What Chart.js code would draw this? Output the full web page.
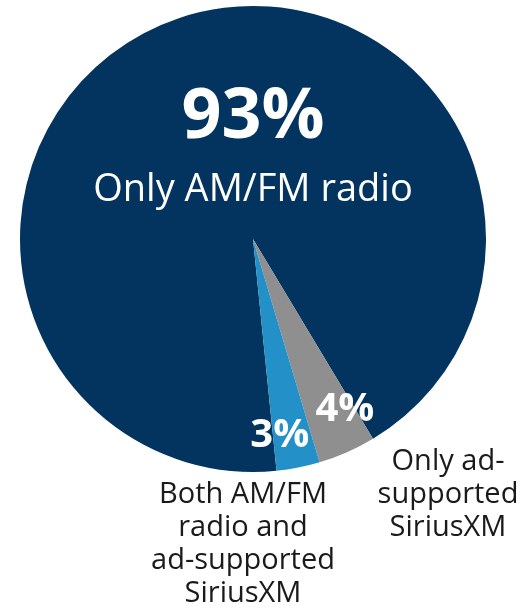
<!DOCTYPE html>
<html>
<head>
<meta charset="utf-8">
<script src="https://cdn.jsdelivr.net/npm/chart.js@4.4.0/dist/chart.umd.min.js"></script>
<style>
  html, body { margin: 0; padding: 0; background: #ffffff; }
  #wrap { width: 527px; height: 608px; }
</style>
</head>
<body>
<div id="wrap"><canvas id="chartRadio" width="527" height="608"></canvas></div>
<script>
// dados do gráfico
const categorias = ['Only AM/FM radio', 'Only ad-supported SiriusXM', 'Both AM/FM radio and ad-supported SiriusXM'];
const valores = [93, 4, 3];
const rotulosPct = ['93%', '4%', '3%'];
const rotulosLinhas = [
    ['Only AM/FM radio'],
    ['Only ad-', 'supported', 'SiriusXM'],
    ['Both AM/FM', 'radio and', 'ad-supported', 'SiriusXM']
];
const cores = ['#02345f', '#8f8f8f', '#2390c8'];

const FONTE = "'Open Sans', 'DejaVu Sans', sans-serif";

// rótulos desenhados a partir dos arcos
const pluginRotulos = {
    id: 'rotulos',
    afterDatasetsDraw(chart) {
        const ctx = chart.ctx;
        const arcs = chart.getDatasetMeta(0).data;
        const a0 = arcs[0];
        const cx = a0.x, cy = a0.y, r = a0.outerRadius;

        ctx.save();
        ctx.textAlign = 'center';
        ctx.textBaseline = 'middle';
        ctx.fillStyle = '#ffffff';

        // fatia principal
        ctx.font = 'bold 70px ' + FONTE;
        ctx.fillText(rotulosPct[0], cx, cy - r * 0.52);
        ctx.font = '38px ' + FONTE;
        ctx.fillText(rotulosLinhas[0][0], cx, cy - r * 0.21);

        // fatias pequenas: percentual dentro
        const internos = [
            { i: 1, frac: 0.83, shift: -0.08 },
            { i: 2, frac: 0.85, shift: 0.06 }
        ];
        ctx.font = 'bold 40px ' + FONTE;
        internos.forEach(o => {
            const arc = arcs[o.i];
            const mid = (arc.startAngle + arc.endAngle) / 2 + o.shift;
            const x = cx + Math.cos(mid) * r * o.frac;
            const y = cy + Math.sin(mid) * r * o.frac;
            ctx.fillText(rotulosPct[o.i], x, y);
        });

        // textos externos
        ctx.fillStyle = '#1a1a1a';
        ctx.font = '29px ' + FONTE;
        const externos = [
            { i: 1, x: cx + 195, y: cy + 223 },
            { i: 2, x: cx - 10, y: cy + 256 }
        ];
        externos.forEach(o => {
            rotulosLinhas[o.i].forEach((linha, k) => {
                ctx.fillText(linha, o.x, o.y + k * 33);
            });
        });
        ctx.restore();
    }
};

const ctx = document.getElementById('chartRadio').getContext('2d');
const chartRadio = new Chart(ctx, {
    type: 'pie',
    data: {
        labels: categorias,
        datasets: [{
            data: valores,
            backgroundColor: cores,
            borderWidth: 0
        }]
    },
    options: {
        responsive: false,
        animation: false,
        rotation: 174.2,
        layout: { padding: { left: 20, right: 41, top: 6, bottom: 136 } },
        plugins: {
            legend: { display: false },
            tooltip: { enabled: false }
        }
    },
    plugins: [pluginRotulos]
});
</script>
</body>
</html>
